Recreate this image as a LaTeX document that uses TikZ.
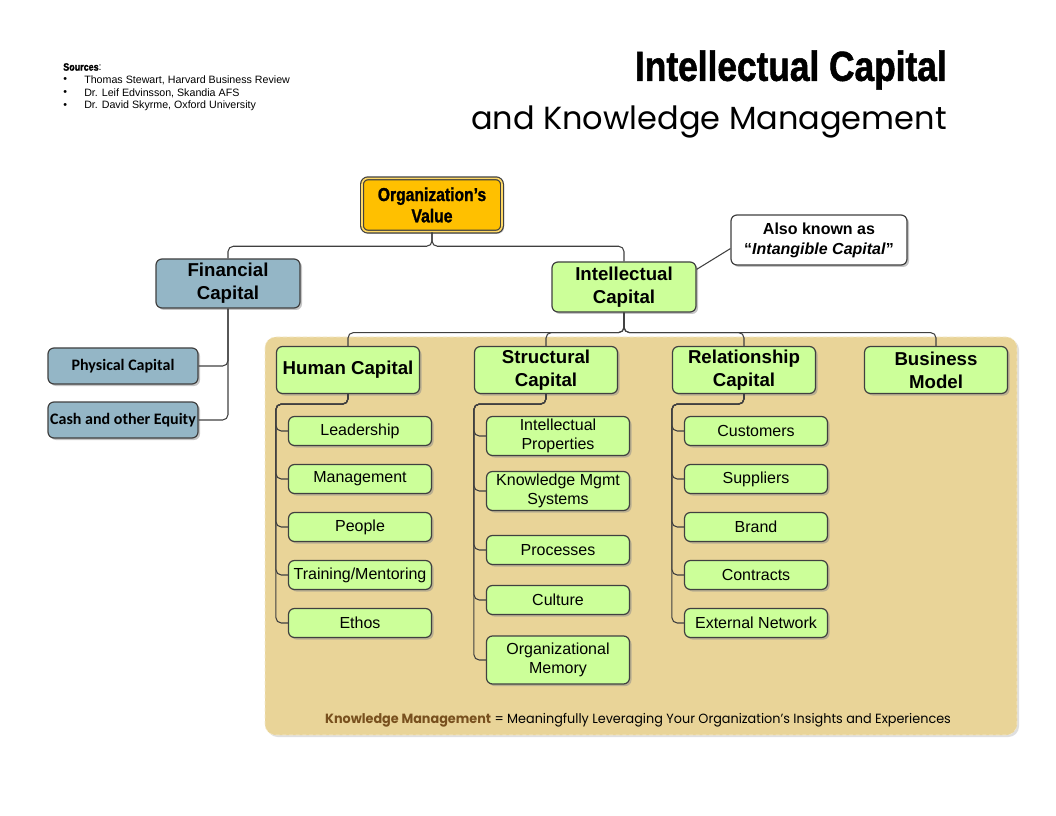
\documentclass[tikz,border=0pt]{standalone}
\usepackage{fontspec}
\setmainfont{Liberation Sans}
\newfontfamily\impactfont{Liberation Sans}[FakeStretch=0.84, FakeBold=1.3]
\newfontfamily\calibrifont{Carlito}
\newfontfamily\gothicfont{Poppins}
\newfontfamily\kmfont{Poppins}[FakeStretch=0.96]
\usetikzlibrary{shadows,calc}

\definecolor{ovyellow}{RGB}{255,192,0}
\definecolor{finblue}{RGB}{148,182,198}
\definecolor{icgreen}{RGB}{204,255,153}
\definecolor{kmtan}{RGB}{233,212,152}
\definecolor{kmbrown}{RGB}{120,80,30}
\definecolor{boxline}{RGB}{64,64,64}

\tikzset{
	box/.style={draw=boxline, line width=0.9pt, rounded corners=4.5pt, align=center, inner sep=1pt,
		drop shadow={shadow xshift=1.5pt, shadow yshift=-1.5pt, fill=black!45, opacity=0.5}},
	ovbox/.style={box, fill=ovyellow, double=ovyellow!60!white, double distance=1.2pt,
		minimum width=105pt, minimum height=40pt, font=\impactfont\bfseries\fontsize{14}{16}\selectfont},
	finbox/.style={box, fill=finblue, font=\bfseries\fontsize{14}{17}\selectfont},
	subfin/.style={box, fill=finblue, minimum width=112.5pt, minimum height=27pt, font=\calibrifont\bfseries\fontsize{12}{14}\selectfont},
	icbox/.style={box, fill=icgreen, minimum width=107.25pt, minimum height=35.25pt, font=\bfseries\fontsize{14}{17}\selectfont},
	leaf/.style={box, fill=icgreen, minimum width=107.25pt, minimum height=21.75pt, font=\fontsize{12}{14.25}\selectfont},
	akabox/.style={box, fill=white, minimum width=132pt, minimum height=37.5pt, font=\bfseries\fontsize{12}{15}\selectfont},
	conn/.style={draw=boxline, line width=0.8pt, rounded corners=4pt},
	srcitem/.style={anchor=west, inner sep=0pt, font=\fontsize{8}{9.6}\selectfont},
}

\begin{document}
\begin{tikzpicture}[x=0.75pt, y=-0.75pt]
	\useasboundingbox (0,0) rectangle (1056,816);

	% sources and title
	\node[anchor=west, inner sep=0pt] (src) at (63,67) {{\impactfont\bfseries\fontsize{8}{9.6}\selectfont Sources}{\fontsize{8}{9.6}\selectfont:}};
	\foreach \t [count=\i] in {{Thomas Stewart, Harvard Business Review}, {Dr. Leif Edvinsson, Skandia AFS}, {Dr. David Skyrme, Oxford University}} {
		\node[srcitem] (bul\i) at (63,67+13*\i) {\textbullet};
		\node[srcitem] (src\i) at (84,67+13*\i) {\t};
	}
	\node[anchor=east, inner sep=0pt, font=\impactfont\bfseries\fontsize{31.5}{34}\selectfont] (title) at (947,70) {Intellectual Capital};
	\node[anchor=east, inner sep=0pt, font=\gothicfont\fontsize{24}{28}\selectfont] (subtitle) at (947,122) {and Knowledge Management};

	% knowledge management area
	\draw[fill=kmtan, draw=kmtan!50!white, densely dashed, rounded corners=8pt,
		drop shadow={shadow xshift=1.5pt, shadow yshift=-1.5pt, fill=black!25, opacity=0.5}] (265,337) rectangle (1017,735);
	\node[font=\kmfont\fontsize{10}{12}\selectfont] (kmdef) at (638,720) {\textcolor{kmbrown}{\bfseries Knowledge Management} = Meaningfully Leveraging Your Organization’s Insights and Experiences};

	% top levels
	\node[ovbox] (ov) at (432,205) {Organization’s\\Value};
	\node[finbox, minimum width=108pt, minimum height=36.75pt] (fc) at (228,283.5) {Financial\\Capital};
	\node[icbox, minimum width=108pt, minimum height=37.5pt] (ic) at (624,287) {Intellectual\\Capital};
	\node[akabox] (aka) at (819,240) {Also known as\\“\textit{Intangible Capital}”};

	\node[subfin] (pc) at (123,366) {Physical Capital};
	\node[subfin] (ce) at (123,420) {Cash and other Equity};

	\node[icbox] (hc) at (348,370) {Human Capital};
	\node[icbox] (sc) at (546,370) {Structural\\Capital};
	\node[icbox] (rc) at (744,370) {Relationship\\Capital};
	\node[icbox] (bm) at (936,370) {Business\\Model};

	% human capital
	\node[leaf] (lead) at (360,431) {Leadership};
	\node[leaf] (mgmt) at (360,479) {Management};
	\node[leaf] (people) at (360,527) {People};
	\node[leaf] (train) at (360,575) {Training/Mentoring};
	\node[leaf] (ethos) at (360,623) {Ethos};

	% structural capital
	\node[leaf, minimum height=29.25pt] (ip) at (558,436) {Intellectual\\Properties};
	\node[leaf, minimum height=29.25pt] (kms) at (558,491) {Knowledge Mgmt\\Systems};
	\node[leaf] (proc) at (558,550) {Processes};
	\node[leaf] (cult) at (558,600) {Culture};
	\node[leaf, minimum height=36pt] (mem) at (558,660) {Organizational\\Memory};

	% relationship capital
	\node[leaf] (cust) at (756,431) {Customers};
	\node[leaf] (supp) at (756,479) {Suppliers};
	\node[leaf] (brand) at (756,527) {Brand};
	\node[leaf] (contr) at (756,575) {Contracts};
	\node[leaf] (ext) at (756,623) {External Network};

	% connectors
	\foreach \n in {fc,ic}
		\draw[conn] (ov.south) -- ++(0,14) -| (\n.north);
	\foreach \n in {pc,ce}
		\draw[conn] (fc.south) |- (\n.east);
	\draw[conn] ($(ic.north east)+(0,8)$) -- ($(aka.south west)+(0,-17)$);
	\foreach \n in {hc,sc,rc,bm}
		\draw[conn] (ic.south) -- ++(0,20) -| (\n.north);
	\foreach \n in {lead,mgmt,people,train,ethos}
		\draw[conn] (hc.south) -- ++(0,10) -| ($(\n.west)+(-12,0)$) -- (\n.west);
	\foreach \n in {ip,kms,proc,cult,mem}
		\draw[conn] (sc.south) -- ++(0,10) -| ($(\n.west)+(-12,0)$) -- (\n.west);
	\foreach \n in {cust,supp,brand,contr,ext}
		\draw[conn] (rc.south) -- ++(0,10) -| ($(\n.west)+(-12,0)$) -- (\n.west);

\end{tikzpicture}
\end{document}
